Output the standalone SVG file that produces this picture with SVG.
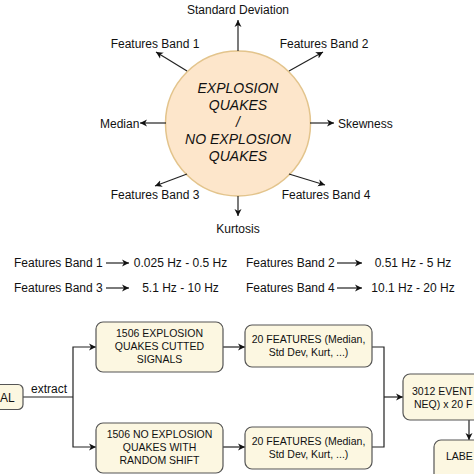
<svg xmlns="http://www.w3.org/2000/svg" width="474" height="474" viewBox="0 0 474 474">
<defs>
<marker id="ah" markerWidth="8" markerHeight="8" refX="7" refY="4" orient="auto" markerUnits="userSpaceOnUse">
<path d="M0,0.5 L7,4 L0,7.5 L2,4 Z" fill="#111"/>
</marker>
</defs>
<style>
text{font-family:"Liberation Sans",Arial,sans-serif;fill:#111}
.lbl{font-size:12px}
.ctr{text-anchor:middle}
.big{font-size:14px;font-style:italic;text-anchor:middle}
.bx{font-size:10.5px;text-anchor:middle}
.edge{stroke:#222;stroke-width:1.2;fill:none}
.arr{marker-end:url(#ah)}
.node{fill:#fcf7e1;stroke:#555;stroke-width:1.2}
</style>
<rect width="474" height="474" fill="#fff"/>

<g id="center">
<circle cx="238" cy="123.5" r="72.5" fill="#fde6cb" stroke="#e3c48c" stroke-width="1.5"/>
<text class="big" x="238" y="93">EXPLOSION</text>
<text class="big" x="238" y="110">QUAKES</text>
<text class="big" x="238" y="127">/</text>
<text class="big" x="238" y="144">NO EXPLOSION</text>
<text class="big" x="238" y="161">QUAKES</text>
</g>

<g id="connectors">
<line class="edge arr" x1="238" y1="51" x2="238" y2="20"/>
<line class="edge arr" x1="187" y1="71" x2="156" y2="52"/>
<line class="edge arr" x1="289" y1="71" x2="323" y2="52"/>
<line class="edge arr" x1="166" y1="123" x2="140" y2="123"/>
<line class="edge arr" x1="310" y1="123" x2="334" y2="123"/>
<line class="edge arr" x1="187" y1="174" x2="155" y2="186"/>
<line class="edge arr" x1="289" y1="174" x2="325" y2="185"/>
<line class="edge arr" x1="238" y1="196" x2="238" y2="216"/>

<line class="edge arr" x1="106" y1="263" x2="129" y2="263"/>
<line class="edge arr" x1="337" y1="263" x2="362" y2="263"/>
<line class="edge arr" x1="106" y1="288" x2="129" y2="288"/>
<line class="edge arr" x1="337" y1="288" x2="362" y2="288"/>

<polyline class="edge" points="23,397 73,397"/>
<polyline class="edge arr" points="73,397 73,347 96,347"/>
<polyline class="edge arr" points="73,397 73,447 96,447"/>
<line class="edge arr" x1="223" y1="347" x2="245" y2="347"/>
<line class="edge arr" x1="223" y1="447" x2="245" y2="447"/>
<polyline class="edge" points="372,347 384,347 384,447 372,447"/>
<line class="edge arr" x1="384" y1="397" x2="403" y2="397"/>
<line class="edge arr" x1="469" y1="420" x2="469" y2="440"/>
</g>

<g id="labels">
<text class="lbl ctr" x="238" y="14">Standard Deviation</text>
<text class="lbl ctr" x="155" y="48">Features Band 1</text>
<text class="lbl ctr" x="324" y="48">Features Band 2</text>
<text class="lbl" x="100" y="128">Median</text>
<text class="lbl" x="338" y="128">Skewness</text>
<text class="lbl ctr" x="155" y="199">Features Band 3</text>
<text class="lbl ctr" x="326" y="199">Features Band 4</text>
<text class="lbl ctr" x="238" y="233">Kurtosis</text>
</g>

<g id="bands">
<text class="lbl" x="14" y="267">Features Band 1</text>
<text class="lbl ctr" x="180.5" y="267">0.025 Hz - 0.5 Hz</text>
<text class="lbl" x="246" y="267">Features Band 2</text>
<text class="lbl ctr" x="413" y="267">0.51 Hz - 5 Hz</text>
<text class="lbl" x="14" y="292">Features Band 3</text>
<text class="lbl ctr" x="180.5" y="292">5.1 Hz - 10 Hz</text>
<text class="lbl" x="246" y="292">Features Band 4</text>
<text class="lbl ctr" x="413" y="292">10.1 Hz - 20 Hz</text>
</g>

<g id="signal">
<rect class="node" x="-40" y="384.5" width="63" height="25" rx="5"/>
<text class="lbl" x="0" y="401.5">AL</text>
</g>
<text class="lbl" x="31" y="393">extract</text>

<g id="eq-box">
<rect class="node" x="96" y="322" width="127" height="50" rx="7"/>
<text class="bx" x="159.5" y="337">1506 EXPLOSION</text>
<text class="bx" x="159.5" y="350">QUAKES CUTTED</text>
<text class="bx" x="159.5" y="363">SIGNALS</text>
</g>

<g id="neq-box">
<rect class="node" x="96" y="423" width="127" height="50" rx="7"/>
<text class="bx" x="159.5" y="438">1506 NO EXPLOSION</text>
<text class="bx" x="159.5" y="451">QUAKES WITH</text>
<text class="bx" x="159.5" y="464">RANDOM SHIFT</text>
</g>

<g id="feat1">
<rect class="node" x="245" y="325" width="127" height="42" rx="7"/>
<text class="bx" x="308.5" y="343">20 FEATURES (Median,</text>
<text class="bx" x="308.5" y="356">Std Dev, Kurt, ...)</text>
</g>

<g id="feat2">
<rect class="node" x="245" y="427" width="127" height="42" rx="7"/>
<text class="bx" x="308.5" y="445">20 FEATURES (Median,</text>
<text class="bx" x="308.5" y="458">Std Dev, Kurt, ...)</text>
</g>

<g id="events">
<rect class="node" x="403" y="374" width="132" height="46" rx="7"/>
<text class="bx" x="412" y="395" style="text-anchor:start">3012 EVENT</text>
<text class="bx" x="414" y="408" style="text-anchor:start">NEQ) x 20 F</text>
</g>

<g id="labels-box">
<rect class="node" x="434" y="440" width="70" height="50" rx="7"/>
<text class="bx" x="446" y="460" style="text-anchor:start">LABE</text>
</g>
</svg>
